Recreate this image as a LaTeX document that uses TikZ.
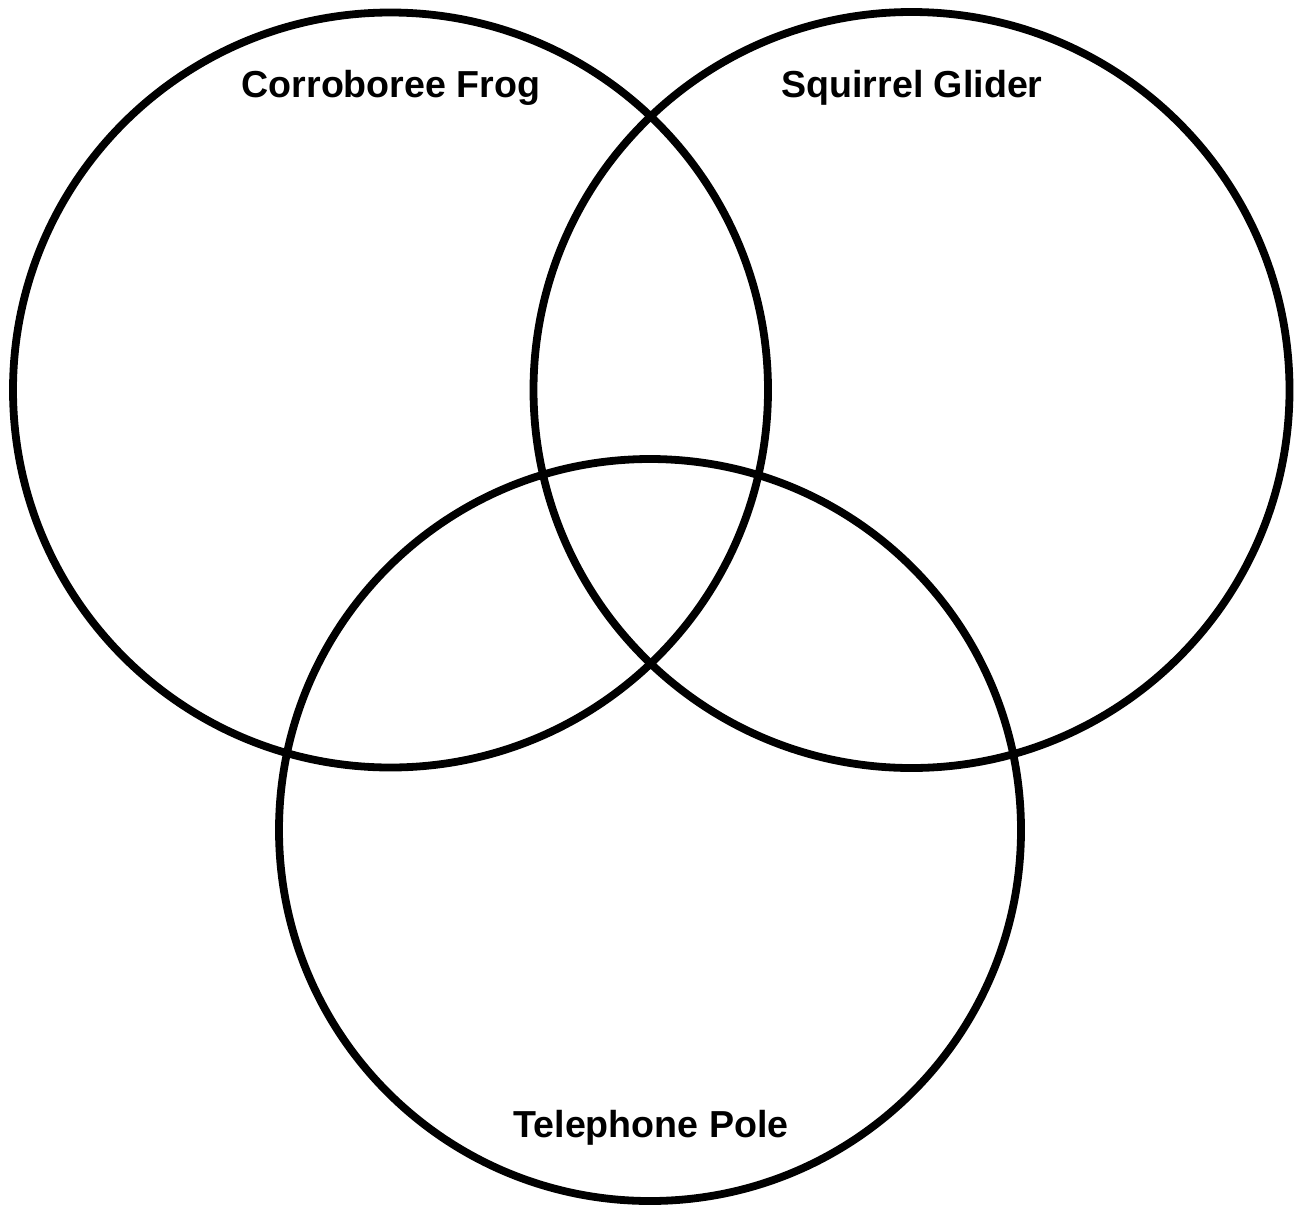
\documentclass[tikz,border=0pt]{standalone}
\usepackage{fontspec}
\setmainfont{Liberation Sans}
\usepackage{tikz}
\usetikzlibrary{positioning}

\begin{document}
\begin{tikzpicture}[
  x=0.5pt, y=-0.5pt,
  ring/.style={draw, circle, line width=3.9pt, inner sep=0pt},
  title/.style={font=\fontsize{18.8}{22}\selectfont\bfseries, anchor=base}
]
\useasboundingbox (0,0) rectangle (1300,1205);

% --- Three sets ---
\node[ring, minimum size=377.5pt] (frog)   at (390.5,390) {};
\node[ring, minimum size=378pt]   (glider) at (911.5,390) {};
\node[ring, minimum size=371pt]   (pole)   at (650,830) {};

% --- Set titles ---
\node[title] (frogname)   at (391,97)   {Corroboree Frog};
\node[title] (glidername) at (912,97)   {Squirrel Glider};
\node[title] (polename)   at (651,1137) {Telephone Pole};

\end{tikzpicture}
\end{document}
